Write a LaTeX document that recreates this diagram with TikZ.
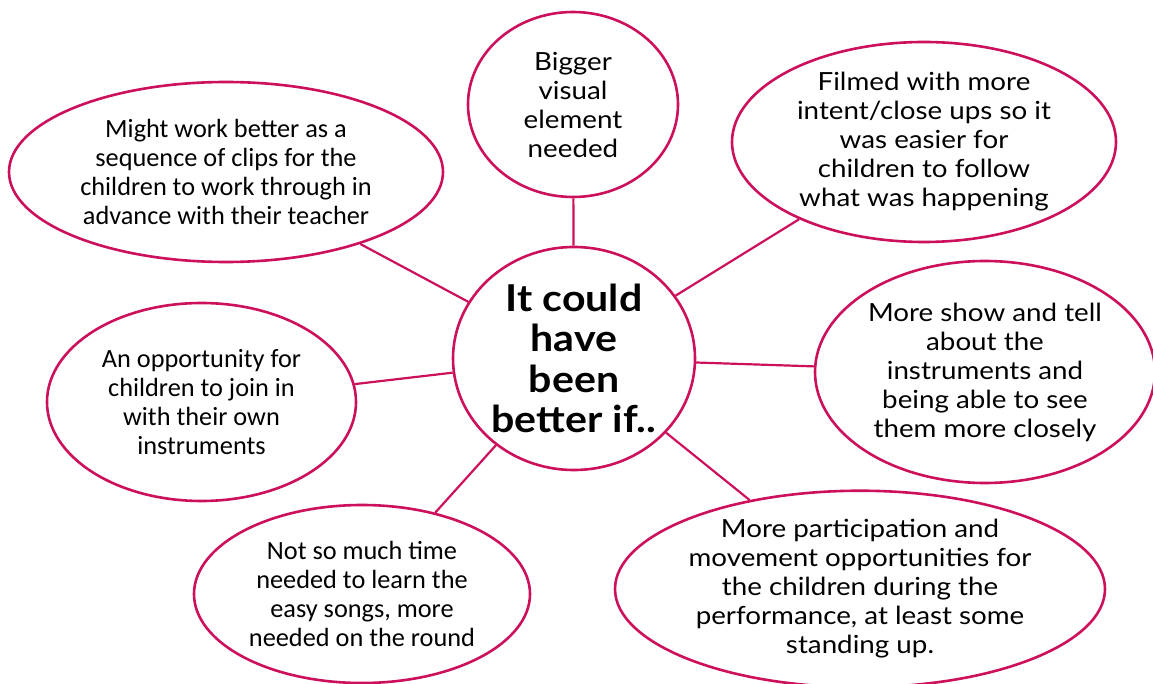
\documentclass[tikz,border=0pt]{standalone}
\usepackage{fontspec}
\setmainfont{Lato}[FakeStretch=1.11]
\newfontfamily\calibrifont{Carlito}
\usetikzlibrary{shapes.geometric}
\definecolor{rim}{RGB}{204,16,92}
\begin{document}
\begin{tikzpicture}[x=1pt,y=-1pt,
  bubble/.style={ellipse,draw=rim,line width=2.6pt,fill=white,inner sep=0pt,
    align=center,font=\fontsize{25}{29}\selectfont},
  cbubble/.style={bubble,font=\calibrifont\fontsize{26.3}{29}\selectfont},
  hub/.style={bubble,font=\bfseries\fontsize{37}{40.5}\selectfont},
  spoke/.style={draw=rim,line width=2.2pt}]
\useasboundingbox (0,0) rectangle (1153,684);

\node[hub, minimum width=242pt, minimum height=223pt] (c) at (574,358.5)
  {It could\\have\\been\\better if..};

\node[bubble, minimum width=210pt, minimum height=185pt] (t) at (573,104.5)
  {Bigger\\visual\\element\\needed};
\node[cbubble, minimum width=434pt, minimum height=180pt] (tl) at (226,172)
  {Might work better as a\\sequence of clips for the\\children to work through in\\advance with their teacher};
\node[bubble, minimum width=384pt, minimum height=200pt] (tr) at (924,142)
  {Filmed with more\\intent/close ups so it\\was easier for\\children to follow\\what was happening};
\node[bubble, minimum width=340pt, minimum height=222pt] (r) at (985,372)
  {More show and tell\\about the\\instruments and\\being able to see\\them more closely};
\node[cbubble, minimum width=309pt, minimum height=198pt] (l) at (201.5,402)
  {An opportunity for\\children to join in\\with their own\\instruments};
\node[cbubble, minimum width=336pt, minimum height=178pt] (bl) at (362,594)
  {Not so much time\\needed to learn the\\easy songs, more\\needed on the round};
\node[bubble, minimum width=490pt, minimum height=184pt] (br) at (860,589)
  {More participation and\\movement opportunities for\\the children during the\\performance, at least some\\standing up.};

\foreach \n in {t,tl,tr,r,l,bl,br}
  \draw[spoke] (c) -- (\n);
\end{tikzpicture}
\end{document}
